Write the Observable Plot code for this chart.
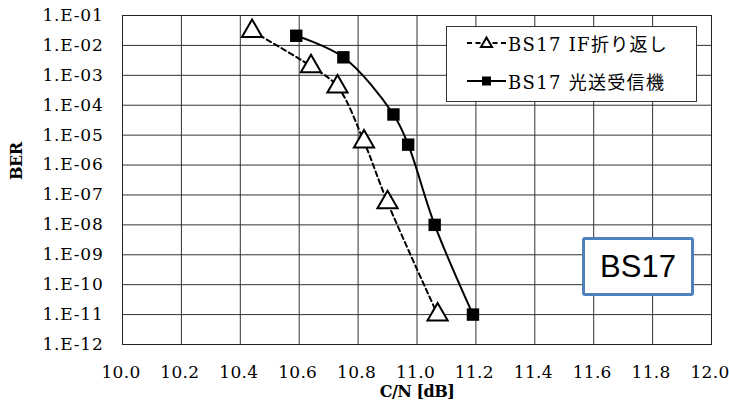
<!DOCTYPE html>
<html>
<head>
<meta charset="utf-8">
<script src="https://cdn.jsdelivr.net/npm/d3@7"></script>
<script src="https://cdn.jsdelivr.net/npm/@observablehq/plot@0.6"></script>
<style>
  body { margin: 0; background: #fff; }
  #wrap { position: relative; width: 729px; height: 415px; overflow: hidden; }
  .legend { position: absolute; left: 446px; top: 26px; width: 251px; height: 76px; border: 1px solid #333; background: #fff; box-sizing: border-box;
    font-family: "DejaVu Serif", "Noto Sans CJK JP", serif; font-size: 18px; letter-spacing: 1.3px; color: #000; }
  .legend .row { position: absolute; left: 19px; height: 22px; display: flex; align-items: center; white-space: nowrap; }
  .legend svg { margin-right: 1px; }
  .tag { position: absolute; left: 582px; top: 237px; width: 112px; height: 59px; border: 3px solid #4f81bd; border-radius: 3px; box-sizing: border-box; background: #fff;
    font-family: "Liberation Sans", Arial, sans-serif; font-size: 31px; display: flex; align-items: center; justify-content: center; color: #000; }
</style>
</head>
<body>
<div id="wrap"></div>
<script>
// Data
const seriesNames = ["BS17 IF折り返し", "BS17 光送受信機"];
const cnIF  = [10.44, 10.64, 10.73, 10.82, 10.90, 11.07];
const berIF = [3.0e-2, 2.0e-3, 4.2e-4, 6.0e-6, 5.6e-8, 1.0e-11];
const cnOpt  = [10.59, 10.75, 10.92, 10.97, 11.06, 11.19];
const berOpt = [2.1e-2, 4.0e-3, 4.9e-5, 4.8e-6, 1.0e-8, 1.0e-11];
const xTicks = [10.0, 10.2, 10.4, 10.6, 10.8, 11.0, 11.2, 11.4, 11.6, 11.8, 12.0];
const yExponents = [-1, -2, -3, -4, -5, -6, -7, -8, -9, -10, -11, -12];
const yTicks = yExponents.map(e => Math.pow(10, e));
const xTitle = "C/N [dB]";
const yTitle = "BER";
const tagText = "BS17";

const ifData = cnIF.map((x, i) => ({x, y: berIF[i]}));
const optData = cnOpt.map((x, i) => ({x, y: berOpt[i]}));

const fmtY = v => {
  const e = Math.round(Math.log10(v));
  const s = String(Math.abs(e)).padStart(2, "0");
  return "1.E" + (e < 0 ? "-" : "+") + s;
};

const chart = Plot.plot({
  width: 729,
  height: 415,
  marginLeft: 122,
  marginRight: 18,
  marginTop: 15,
  marginBottom: 71,
  style: { fontFamily: "DejaVu Serif, serif", fontSize: "17px", color: "#000", background: "#fff" },
  x: { domain: [10, 12] },
  y: { type: "log", domain: [1e-12, 1e-1] },
  marks: [
    Plot.gridX(xTicks, { stroke: "#333", strokeOpacity: 1, strokeWidth: 1 }),
    Plot.gridY(yTicks, { stroke: "#333", strokeOpacity: 1, strokeWidth: 1 }),
    Plot.frame({ stroke: "#222", strokeWidth: 1 }),
    Plot.axisX(xTicks, { tickSize: 0, tickPadding: 21, dx: -1.5, tickFormat: d => d.toFixed(1), label: null, fontSize: 17 }),
    Plot.axisY(yTicks, { tickSize: 0, tickPadding: 19, tickFormat: fmtY, label: null, fontSize: 17 }),
    Plot.text([xTitle], { frameAnchor: "bottom", lineAnchor: "middle", dy: 47, text: d => d, fontWeight: "bold", fontSize: 16 }),
    Plot.text([yTitle], { frameAnchor: "left", lineAnchor: "middle", dx: -106, rotate: -90, text: d => d, fontWeight: "bold", fontSize: 16 }),
    Plot.line(ifData, { x: "x", y: "y", curve: "catmull-rom", stroke: "#000", strokeWidth: 2, strokeDasharray: "5,3.5" }),
    Plot.line(optData, { x: "x", y: "y", curve: "catmull-rom", stroke: "#000", strokeWidth: 2 }),
    Plot.dot(ifData, { x: "x", y: "y", symbol: "triangle", r: 7.5, fill: "#fff", stroke: "#000", strokeWidth: 2 }),
    Plot.dot(optData, { x: "x", y: "y", symbol: "square", r: 7, fill: "#000", stroke: "none" })
  ]
});

// tick labels: slight letter spacing as in the reference
d3.select(chart).selectAll('g[aria-label="y-axis tick label"] text').style("letter-spacing", "0.8px");
d3.select(chart).selectAll('g[aria-label="x-axis tick label"] text').style("letter-spacing", "0.3px");
d3.select(chart).selectAll('g[aria-label="text"] text').style("letter-spacing", "-0.5px");

const wrap = document.getElementById("wrap");
wrap.appendChild(chart);

const legend = document.createElement("div");
legend.className = "legend";
legend.innerHTML = `
  <div class="row" style="top:5px">
    <svg width="41" height="20"><line x1="1" y1="10" x2="40" y2="10" stroke="#000" stroke-width="2" stroke-dasharray="5,3.5"/>
      <path d="M20.5,4.5 L26,14 L15,14 Z" fill="#fff" stroke="#000" stroke-width="2"/></svg>
    <span>${seriesNames[0]}</span>
  </div>
  <div class="row" style="top:43px">
    <svg width="41" height="20"><line x1="1" y1="10" x2="40" y2="10" stroke="#000" stroke-width="2"/>
      <rect x="16" y="5.5" width="9" height="9" fill="#000"/></svg>
    <span>${seriesNames[1]}</span>
  </div>`;
wrap.appendChild(legend);

const tag = document.createElement("div");
tag.className = "tag";
tag.textContent = tagText;
wrap.appendChild(tag);
</script>
</body>
</html>
